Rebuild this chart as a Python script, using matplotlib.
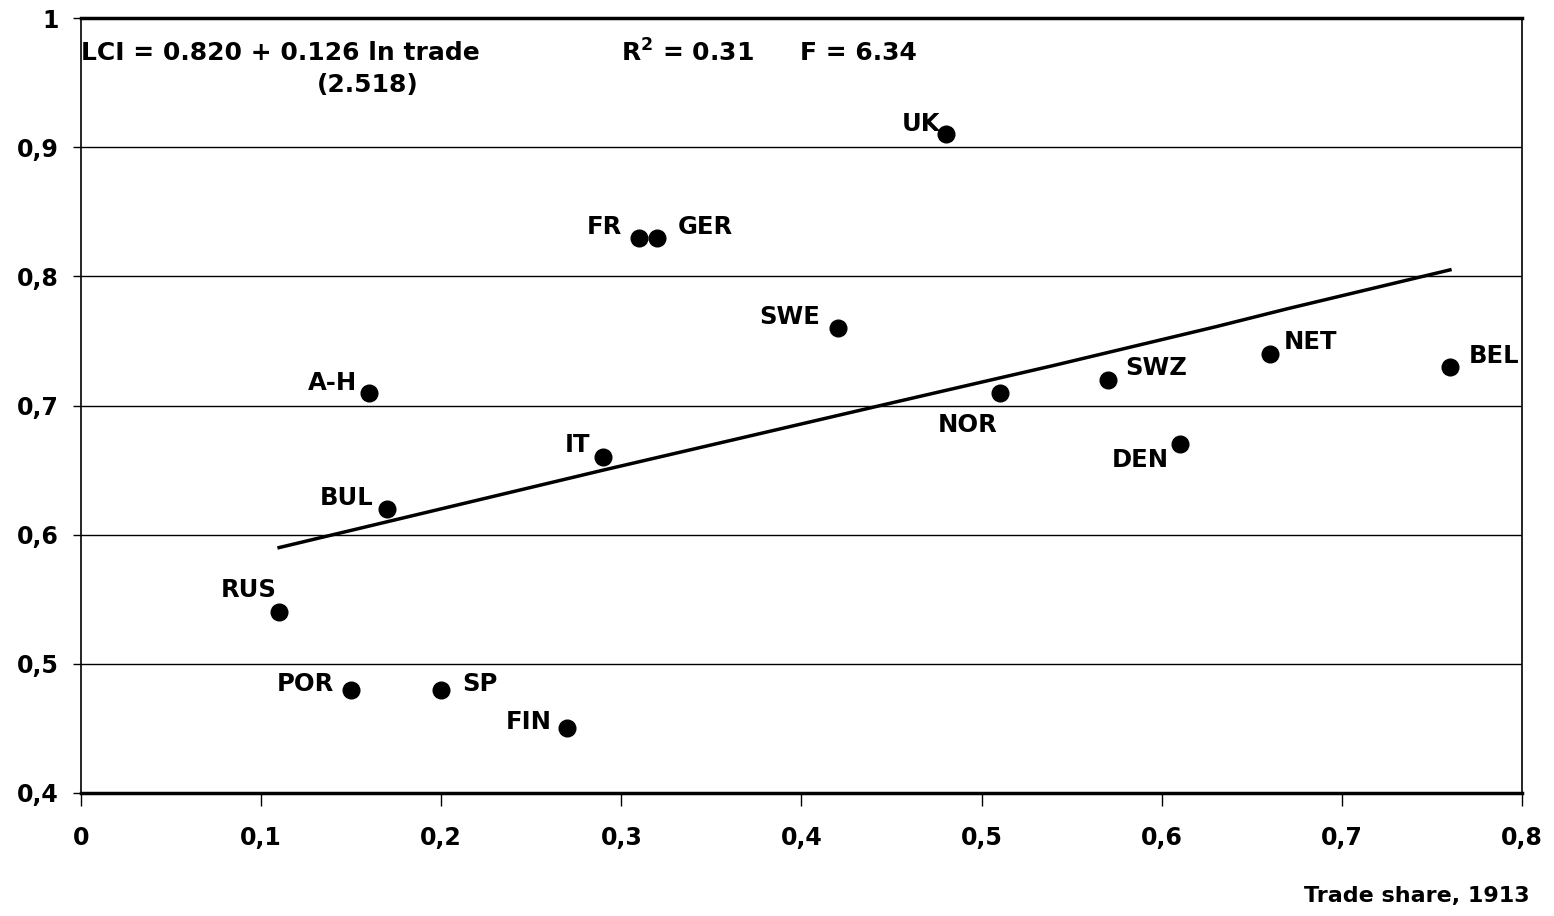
import matplotlib
matplotlib.use('Agg')
import matplotlib.pyplot as plt

plt.rcParams['font.family'] = ['DejaVu Sans']
plt.rcParams['font.weight'] = 'bold'

countries = ['UK', 'FR', 'GER', 'SWE', 'A-H', 'IT', 'BUL', 'RUS', 'POR', 'SP', 'FIN',
             'NOR', 'SWZ', 'NET', 'BEL', 'DEN']
trade = [0.48, 0.31, 0.32, 0.42, 0.16, 0.29, 0.17, 0.11, 0.15, 0.20, 0.27,
         0.51, 0.57, 0.66, 0.76, 0.61]
lci = [0.91, 0.83, 0.83, 0.76, 0.71, 0.66, 0.62, 0.54, 0.48, 0.48, 0.45,
       0.71, 0.72, 0.74, 0.73, 0.67]

# fitted line
fit_x = [0.11, 0.20, 0.29, 0.37, 0.45, 0.54, 0.63, 0.67, 0.76]
fit_y = [0.590, 0.620, 0.650, 0.676, 0.702, 0.731, 0.761, 0.775, 0.805]

# label placement (pixel offsets, alignment)
label_pos = {
    'UK': (-5, 10, 'right'), 'FR': (-17, 11, 'right'), 'GER': (20, 11, 'left'),
    'SWE': (-17, 11, 'right'), 'A-H': (-12, 10, 'right'), 'IT': (-13, 12, 'right'),
    'BUL': (-14, 11, 'right'), 'RUS': (-2, 22, 'right'), 'POR': (-17, 6, 'right'),
    'SP': (21, 6, 'left'), 'FIN': (-16, 6, 'right'), 'NOR': (-32, -32, 'center'),
    'SWZ': (18, 12, 'left'), 'NET': (14, 12, 'left'), 'BEL': (19, 11, 'left'),
    'DEN': (-11, -16, 'right'),
}

fig = plt.figure(figsize=(15.54, 9.16), dpi=100)
ax = fig.add_axes([0.0521, 0.1343, 0.9273, 0.846])

for g in [0.5, 0.6, 0.7, 0.8, 0.9]:
    ax.axhline(g, color='black', lw=1.0, zorder=1)

ax.plot(fit_x, fit_y, color='black', lw=2.5, zorder=2)
ax.plot(trade, lci, 'o', color='black', ms=12, zorder=3)

for name, x, y in zip(countries, trade, lci):
    dx, dy, ha = label_pos[name]
    ax.annotate(name, (x, y), xytext=(dx, dy), textcoords='offset pixels',
                ha=ha, va='center', fontsize=17.5, fontweight='bold')

ax.text(0.0, 0.973, 'LCI = 0.820 + 0.126 ln trade', fontsize=18, fontweight='bold',
        ha='left', va='center')
ax.text(0.159, 0.948, '(2.518)', fontsize=18, fontweight='bold', ha='center', va='center')
ax.text(0.3, 0.973, r'R$^{\mathbf{2}}$ = 0.31', fontsize=18, fontweight='bold',
        ha='left', va='center')
ax.text(0.399, 0.973, 'F = 6.34', fontsize=18, fontweight='bold', ha='left', va='center')

ax.set_xlim(0, 0.8)
ax.set_ylim(0.4, 1.0)
xt = [0, 0.1, 0.2, 0.3, 0.4, 0.5, 0.6, 0.7, 0.8]
yt = [0.4, 0.5, 0.6, 0.7, 0.8, 0.9, 1.0]
ax.set_xticks(xt)
ax.set_xticklabels(['0', '0,1', '0,2', '0,3', '0,4', '0,5', '0,6', '0,7', '0,8'])
ax.set_yticks(yt)
ax.set_yticklabels(['0,4', '0,5', '0,6', '0,7', '0,8', '0,9', '1'])
ax.tick_params(axis='x', length=9, width=1, pad=15, labelsize=17)
ax.tick_params(axis='y', length=6, width=1, pad=10, labelsize=17)
for lab in ax.get_xticklabels() + ax.get_yticklabels():
    lab.set_fontweight('bold')

ax.spines['top'].set_linewidth(2.5)
ax.spines['bottom'].set_linewidth(2.5)
ax.spines['left'].set_linewidth(1.2)
ax.spines['right'].set_linewidth(1.2)

fig.text(0.984, 0.022, 'Trade share, 1913', fontsize=16, fontweight='bold',
         ha='right', va='center')

fig.savefig('out.png', dpi=100)
